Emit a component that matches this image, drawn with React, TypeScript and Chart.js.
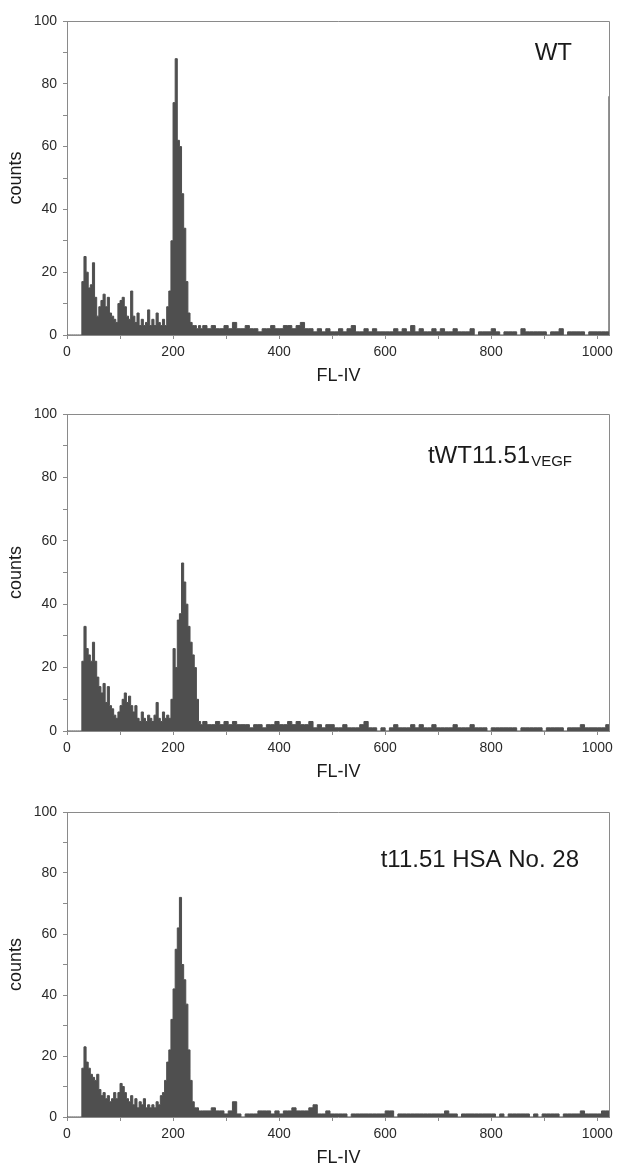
import React, { useEffect, useRef } from 'react';
import { Chart, registerables } from 'chart.js';

Chart.register(...registerables);

// Histogram layout: 4-channel bins from channel 0 to 256, 8-channel bins from 256 to 1024
const FINE_STEP = 4;
const COARSE_START = 256;
const COARSE_STEP = 8;
const X_MAX = 1024;
const X_TICK_LABELS = [0, 200, 400, 600, 800, 1000];
const Y_TICK_LABELS = [0, 20, 40, 60, 80, 100];
const X_TITLE = 'FL-IV';
const Y_TITLE = 'counts';

// Panel 1: WT
const wtLow = [
  0, 0, 0, 0, 0, 0, 0, 17, 25, 20, 15, 16, 23, 12, 6, 9,
  11, 13, 9, 12, 7, 6, 5, 4, 10, 11, 12, 9, 6, 5, 14, 6,
  4, 7, 3, 5, 3, 4, 8, 3, 5, 3, 7, 4, 3, 5, 3, 9,
  14, 30, 74, 88, 62, 60, 45, 34, 17, 7, 4, 3, 3, 2, 3, 2,
];
const wtHigh = [
  3, 2, 3, 2, 2, 3, 2, 4, 2, 2, 3, 2, 2, 1, 2, 2,
  3, 2, 2, 3, 3, 2, 3, 4, 2, 2, 1, 2, 1, 2, 1, 1,
  2, 1, 2, 3, 1, 1, 2, 1, 2, 1, 1, 1, 1, 2, 1, 2,
  1, 3, 1, 2, 1, 1, 2, 1, 2, 1, 1, 2, 1, 1, 1, 2,
  0, 1, 1, 1, 2, 1, 0, 1, 1, 1, 0, 2, 1, 1, 1, 1,
  1, 0, 1, 1, 2, 0, 1, 1, 1, 1, 0, 1, 1, 1, 1, 1,
];
const wtLastChannel = 76;

// Panel 2: tWT11.51 VEGF
const vegfLow = [
  0, 0, 0, 0, 0, 0, 0, 22, 33, 26, 24, 22, 28, 22, 17, 14,
  12, 15, 9, 14, 8, 7, 5, 4, 6, 8, 10, 12, 9, 11, 8, 6,
  8, 4, 3, 6, 4, 3, 5, 4, 3, 5, 9, 4, 3, 6, 4, 5,
  4, 10, 26, 20, 35, 37, 53, 47, 40, 33, 28, 24, 20, 10, 3, 2,
];
const vegfHigh = [
  3, 2, 2, 3, 2, 3, 2, 3, 2, 2, 2, 1, 2, 2, 1, 2,
  2, 3, 2, 2, 3, 2, 3, 2, 2, 3, 1, 2, 1, 2, 2, 1,
  1, 2, 1, 1, 1, 2, 3, 1, 1, 0, 1, 0, 1, 2, 1, 1,
  1, 2, 1, 2, 1, 1, 2, 1, 1, 1, 1, 2, 1, 1, 1, 2,
  1, 1, 1, 0, 1, 1, 1, 1, 1, 1, 0, 1, 1, 1, 1, 1,
  0, 1, 1, 1, 1, 0, 1, 1, 1, 2, 1, 1, 1, 1, 1, 2,
];
const vegfLastChannel = 2;

// Panel 3: t11.51 HSA No. 28
const hsaLow = [
  0, 0, 0, 0, 0, 0, 0, 16, 23, 18, 16, 14, 13, 12, 14, 9,
  7, 8, 6, 7, 5, 6, 8, 6, 8, 11, 10, 8, 6, 5, 7, 4,
  6, 3, 5, 4, 6, 3, 4, 3, 4, 3, 5, 4, 7, 8, 12, 18,
  22, 32, 42, 55, 62, 72, 50, 45, 37, 22, 12, 5, 3, 3, 2, 2,
];
const hsaHigh = [
  2, 2, 3, 2, 2, 1, 2, 5, 1, 0, 1, 1, 1, 2, 2, 2,
  1, 2, 1, 2, 2, 3, 2, 2, 2, 3, 4, 1, 1, 2, 1, 1,
  1, 1, 0, 1, 1, 1, 1, 1, 1, 1, 1, 2, 2, 0, 1, 1,
  1, 1, 1, 1, 1, 1, 1, 1, 1, 2, 1, 1, 0, 1, 1, 1,
  1, 1, 1, 1, 1, 0, 1, 0, 1, 1, 1, 1, 1, 0, 1, 0,
  1, 1, 1, 1, 0, 1, 1, 1, 1, 2, 1, 1, 1, 1, 2, 2,
];
const hsaLastChannel = 2;

const FONT = '"Liberation Sans", Arial, Helvetica, sans-serif';

function buildPoints(low: number[], high: number[], last: number) {
  const pts: { x: number; y: number }[] = [];
  low.forEach((v, i) => pts.push({ x: i * FINE_STEP, y: v }));
  high.forEach((v, k) => pts.push({ x: COARSE_START + k * COARSE_STEP, y: v }));
  pts.push({ x: X_MAX - 2, y: last });
  pts.push({ x: X_MAX, y: last });
  return pts;
}

type LabelSpec = { main: string; sub?: string; right: number; baseline: number; subBaseline?: number };

type PanelProps = {
  top: number;
  plotHeight: number;
  low: number[];
  high: number[];
  last: number;
  label: LabelSpec;
};

const PAD_TOP = 21;
const X_AXIS_H = 56;
const Y_AXIS_W = 67;
const WIDTH = 618;
const AXIS_COLOR = '#8a8a8a';

function Panel({ top, plotHeight, low, high, last, label }: PanelProps) {
  const ref = useRef<HTMLCanvasElement | null>(null);
  const height = PAD_TOP + plotHeight + X_AXIS_H;

  useEffect(() => {
    if (!ref.current) return;
    const boxPlugin = {
      id: 'boxAndLabel',
      afterDraw(chart: any) {
        const { ctx, chartArea } = chart;
        ctx.save();
        ctx.strokeStyle = AXIS_COLOR;
        ctx.lineWidth = 1;
        const t = Math.round(chartArea.top) + 0.5;
        const r = Math.round(chartArea.right) - 0.5;
        ctx.beginPath();
        ctx.moveTo(chartArea.left, t);
        ctx.lineTo(r, t);
        ctx.lineTo(r, chartArea.bottom);
        ctx.stroke();

        ctx.fillStyle = '#1a1a1a';
        ctx.textBaseline = 'alphabetic';
        ctx.textAlign = 'right';
        let x = label.right;
        if (label.sub) {
          ctx.font = `15px ${FONT}`;
          ctx.fillText(label.sub, x, label.subBaseline ?? label.baseline);
          x -= ctx.measureText(label.sub).width + 1;
        }
        ctx.font = `24px ${FONT}`;
        ctx.fillText(label.main, x, label.baseline);
        ctx.restore();
      },
    };

    const chart = new Chart(ref.current, {
      type: 'line',
      data: {
        datasets: [
          {
            data: buildPoints(low, high, last),
            stepped: 'before',
            fill: 'origin',
            backgroundColor: '#4f4f4f',
            borderColor: '#4f4f4f',
            borderWidth: 1,
            pointRadius: 0,
            tension: 0,
          },
        ],
      },
      options: {
        responsive: false,
        animation: false,
        devicePixelRatio: 1,
        layout: { padding: { top: PAD_TOP, right: WIDTH - 611, left: 0, bottom: 0 } },
        plugins: { legend: { display: false }, tooltip: { enabled: false } },
        scales: {
          x: {
            type: 'linear',
            min: 0,
            max: X_MAX,
            afterFit: (s: any) => {
              s.height = X_AXIS_H;
            },
            grid: { display: true, drawOnChartArea: false, drawTicks: true, tickLength: 4, color: AXIS_COLOR },
            border: { display: true, color: AXIS_COLOR, width: 1 },
            ticks: {
              stepSize: 100,
              includeBounds: false,
              autoSkip: false,
              maxRotation: 0,
              padding: 5,
              color: '#2a2a2a',
              font: { family: FONT, size: 14 },
              callback: (v: any) => (X_TICK_LABELS.includes(Number(v)) ? String(v) : ''),
            },
            title: {
              display: true,
              text: X_TITLE,
              color: '#1a1a1a',
              font: { family: FONT, size: 18 },
              padding: { top: 0, bottom: 4 },
            },
          },
          y: {
            type: 'linear',
            min: 0,
            max: 100,
            afterFit: (s: any) => {
              s.width = Y_AXIS_W;
            },
            grid: { display: true, drawOnChartArea: false, drawTicks: true, tickLength: 4, color: AXIS_COLOR },
            border: { display: true, color: AXIS_COLOR, width: 1 },
            ticks: {
              stepSize: 10,
              autoSkip: false,
              padding: 6,
              color: '#2a2a2a',
              font: { family: FONT, size: 14 },
              callback: (v: any) => (Y_TICK_LABELS.includes(Number(v)) ? String(v) : ''),
            },
            title: {
              display: true,
              text: Y_TITLE,
              color: '#1a1a1a',
              font: { family: FONT, size: 18 },
              padding: { top: 5, bottom: 0 },
            },
          },
        },
      },
      plugins: [boxPlugin],
    });
    return () => chart.destroy();
  }, []);

  return (
    <canvas
      ref={ref}
      width={WIDTH}
      height={height}
      style={{ position: 'absolute', left: 0, top, width: WIDTH, height, display: 'block' }}
    />
  );
}

export default function App() {
  return (
    <div
      style={{
        position: 'absolute',
        left: 0,
        top: 0,
        width: WIDTH,
        height: 1166,
        overflow: 'hidden',
        background: '#fff',
      }}
    >
      <Panel
        top={0}
        plotHeight={314}
        low={wtLow}
        high={wtHigh}
        last={wtLastChannel}
        label={{ main: 'WT', right: 572, baseline: 60 }}
      />
      <Panel
        top={393}
        plotHeight={317}
        low={vegfLow}
        high={vegfHigh}
        last={vegfLastChannel}
        label={{ main: 'tWT11.51', sub: 'VEGF', right: 572, baseline: 70, subBaseline: 73 }}
      />
      <Panel
        top={791}
        plotHeight={305}
        low={hsaLow}
        high={hsaHigh}
        last={hsaLastChannel}
        label={{ main: 't11.51 HSA No. 28', right: 579, baseline: 76 }}
      />
    </div>
  );
}
